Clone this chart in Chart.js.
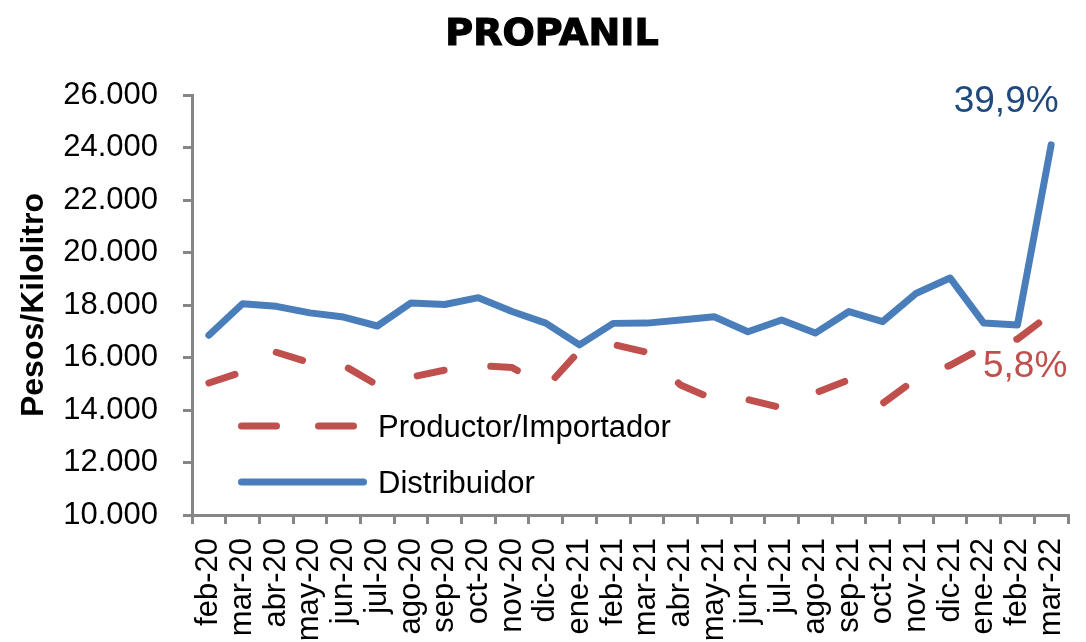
<!DOCTYPE html>
<html>
<head>
<meta charset="utf-8">
<script src="https://cdn.jsdelivr.net/npm/chart.js@4"></script>
<style>
  html, body { margin: 0; padding: 0; background: #fff; }
  #wrap { width: 1086px; height: 642px; }
</style>
</head>
<body>
<div id="wrap"><canvas id="myChart"></canvas></div>
<script>
// datos
const meses = ['feb-20', 'mar-20', 'abr-20', 'may-20', 'jun-20', 'jul-20', 'ago-20', 'sep-20', 'oct-20', 'nov-20', 'dic-20', 'ene-21',
  'feb-21', 'mar-21', 'abr-21', 'may-21', 'jun-21', 'jul-21', 'ago-21', 'sep-21', 'oct-21', 'nov-21', 'dic-21', 'ene-22', 'feb-22', 'mar-22'];
const productor = [15030, 15450, 16200, 15800, 15700, 14950, 15250, 15520, 15700, 15620, 14850, 16250,
  16500, 16200, 14950, 14400, 14400, 14080, 14650, 15150, 14250, 15200, 15700, 16400, 16700, 17670];
const distribuidor = [16850, 18050, 17950, 17700, 17540, 17200, 18080, 18020, 18280, 17750, 17310, 16480,
  17300, 17310, 17430, 17550, 16980, 17430, 16930, 17750, 17370, 18450, 19030, 17310, 17240, 24100];
const variacion = ['5,8%', '39,9%'];
const yMin = 10000, yMax = 26000, yPaso = 2000;

const gris = '#868686';
const rojo = '#C0504D';
const azul = '#4A7EBB';

Chart.defaults.font.family = "'Liberation Sans', Arial, sans-serif";
Chart.defaults.color = '#000';

function miles(v) {
  return String(v).replace(/\B(?=(\d{3})+(?!\d))/g, '.');
}

// titulo, leyenda y etiquetas de variacion
const extras = {
  id: 'extras',
  afterDraw(chart) {
    const ctx = chart.ctx;
    ctx.save();

    ctx.fillStyle = '#000';
    ctx.strokeStyle = '#000';
    ctx.lineWidth = 1.2;
    ctx.textAlign = 'center';
    ctx.textBaseline = 'alphabetic';
    ctx.font = "bold 38px 'DejaVu Sans'";
    ctx.fillText('PROPANIL', 552, 45);
    ctx.strokeText('PROPANIL', 552, 45);

    // leyenda
    const filas = [437, 493];
    chart.data.datasets.forEach((ds, i) => {
      const yl = filas[i] - 11;
      ctx.beginPath();
      ctx.strokeStyle = ds.borderColor;
      ctx.lineWidth = ds.borderWidth;
      ctx.lineCap = 'round';
      ctx.setLineDash(ds.borderDash ? [35, 42] : []);
      ctx.moveTo(241.5, yl);
      ctx.lineTo(ds.borderDash ? 353.5 : 363.5, yl);
      ctx.stroke();
      ctx.setLineDash([]);
      ctx.fillStyle = '#000';
      ctx.textAlign = 'left';
      ctx.font = "31px 'Liberation Sans'";
      ctx.fillText(ds.label, 378, filas[i]);
    });

    // variaciones
    ctx.textAlign = 'center';
    ctx.font = "37px 'Liberation Sans'";
    const pr = chart.getDatasetMeta(0).data[meses.length - 1];
    ctx.fillStyle = rojo;
    ctx.fillText(variacion[0], pr.x - 26, pr.y + 63);
    const di = chart.getDatasetMeta(1).data[meses.length - 1];
    ctx.fillStyle = '#1F497D';
    ctx.fillText(variacion[1], di.x - 45, di.y - 33);

    ctx.restore();
  }
};

const ctx = document.getElementById('myChart').getContext('2d');

new Chart(ctx, {
  type: 'line',
  data: {
    labels: meses,
    datasets: [{
      label: 'Productor/Importador',
      data: productor,
      borderColor: rojo,
      borderWidth: 7,
      borderDash: [27.5, 47],
      borderCapStyle: 'round',
      borderJoinStyle: 'round',
      pointRadius: 0,
      tension: 0
    }, {
      label: 'Distribuidor',
      data: distribuidor,
      borderColor: azul,
      borderWidth: 7,
      borderCapStyle: 'round',
      borderJoinStyle: 'round',
      pointRadius: 0,
      tension: 0
    }]
  },
  options: {
    responsive: true,
    maintainAspectRatio: false,
    animation: false,
    layout: { padding: { top: 95, right: 0, left: 0, bottom: 0 } },
    plugins: {
      legend: { display: false },
      title: { display: false },
      tooltip: { enabled: false }
    },
    scales: {
      x: {
        offset: true,
        grid: { offset: true, drawOnChartArea: false, tickLength: 9, color: gris, lineWidth: 3 },
        border: { color: gris, width: 3 },
        ticks: { minRotation: 90, maxRotation: 90, autoSkip: false, padding: 14, font: { size: 31 }, color: '#000' },
        afterFit: s => { s.height = 127; s.paddingRight = 18; }
      },
      y: {
        min: yMin,
        max: yMax,
        grid: { drawOnChartArea: false, tickLength: 9, color: gris, lineWidth: 3 },
        border: { color: gris, width: 3 },
        ticks: { stepSize: yPaso, padding: 25, font: { size: 31 }, color: '#000', callback: v => miles(v) },
        title: { display: true, text: 'Pesos/Kilolitro', font: { size: 32, weight: 'bold' }, color: '#000', padding: { top: 15, bottom: 0 } },
        afterFit: s => { s.width = 192; }
      }
    }
  },
  plugins: [extras]
});
</script>
</body>
</html>
